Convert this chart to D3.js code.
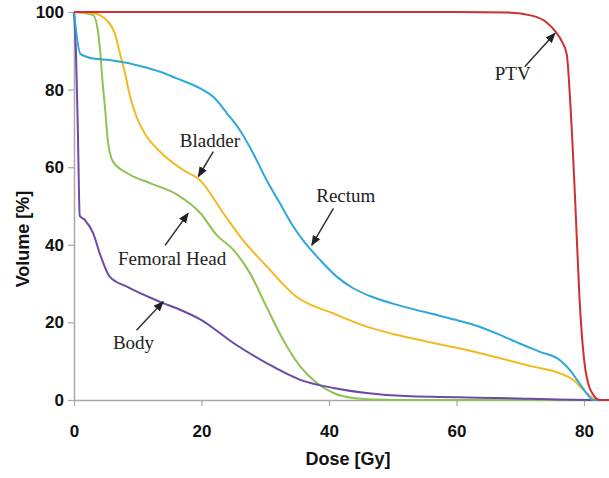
<!DOCTYPE html>
<html>
<head>
<meta charset="utf-8">
<script src="https://cdn.jsdelivr.net/npm/d3@7"></script>
<style>
  body { margin: 0; background: #fff; }
  svg { display: block; }
</style>
</head>
<body>
<div class="graph"></div>
<script>
// dose-volume histogram curves, [dose Gy, volume %]
const ptv = [[0,100],[60,100],[68,99.9],[72,99],[74,97.5],[75.5,95],[76.5,92.5],[77.3,89],[77.8,78],
  [78.6,52],[79.3,26],[79.8,14],[80.2,8],[80.7,4],[81.4,1.5],[82.5,0],[84,0]];
const rectum = [[0,100],[1,89.2],[3,88],[5.6,87.6],[10.8,85.9],[13.5,84.6],[16.1,82.9],[19.8,80.3],
  [21.8,78.2],[24,73.9],[26,69.6],[28.1,63.6],[30.2,56.7],[32.3,50.7],[34.4,44.7],[36,41],
  [38.6,36.1],[41.2,31.8],[43.8,28.8],[46.4,26.8],[51.4,24.2],[56.9,21.9],[60,20.6],[63,19.2],
  [66.8,16.8],[70,14.5],[73.1,12.4],[76.2,10.3],[77.8,7.7],[78.9,5.2],[80.4,1.8],[81.4,0],[84,0]];
const bladder = [[0,100],[3,99.7],[5.1,97.9],[6.4,94.5],[7.2,89.4],[8,84.2],[8.8,78.2],[9.8,73],
  [11.1,68.7],[13.5,64],[17.1,59.3],[19.8,56.6],[23.4,48.2],[26.5,41.2],[30.2,34.5],[34.9,26.6],
  [40.7,22.3],[45.9,18.9],[51.1,16.6],[61.6,12.9],[72,8.6],[76.2,6.9],[78.3,5.2],[79.9,2.6],
  [81.4,0.5],[82.5,0],[84,0]];
const femoral = [[0,100],[3,99.2],[3.8,94.5],[4.1,90],[4.5,81.6],[4.9,74.7],[5.3,67],[6.1,61.5],
  [8.3,58.5],[11.9,55.9],[16.1,53],[19.8,48.2],[22.4,42.5],[25,38.7],[27.6,32.7],[30.2,24],
  [32.8,15.5],[35.5,8.6],[38.1,4.4],[40.7,1.8],[43.8,0.5],[47.5,0.1],[50,0],[84,0]];
const body = [[0,100],[0.3,90],[0.6,70],[0.9,47.5],[1.7,46.4],[3,43],[4.1,37.5],[5.6,31.8],
  [8.3,29.2],[13.5,25.3],[17,23],[19.8,20.8],[25,14.7],[30.2,9.5],[35.5,5.2],[40.7,3.1],
  [45.9,1.8],[52,1],[66.8,0.5],[81,0],[84,0]];

const seriesNames = ["Femoral Head","Body","Bladder","Rectum","PTV"];
const seriesData = [femoral, body, bladder, rectum, ptv];
const seriesColors = ["#8fc255","#6a4ca6","#f2b921","#2ea8d8","#cf2f2f"];

const xTicks = [0,20,40,60,80];
const yTicks = [0,20,40,60,80,100];

// annotation label anchor, arrow tail, arrow tip in data units
const labels = ["Bladder","Rectum","Femoral Head","Body","PTV"];
const labelPos = [[16.6,65.2],[38.0,51.0],[6.9,34.8],[6.1,13.1],[66.0,82.5]];
const arrowTail = [[21.85,64.0],[40.7,49.4],[14.3,39.9],[9.8,18.0],[70.7,85.9]];
const arrowTip = [[19.5,57.6],[37.3,39.9],[17.9,48.1],[14.0,25.3],[75.45,94.5]];

const width = 609, height = 478;

let svg = d3.select(".graph").append("svg")
  .attr("width", width)
  .attr("height", height);

var x = d3.scaleLinear().domain([0,84]).range([74,609.5]);
var y = d3.scaleLinear().domain([0,100]).range([400,12]);

svg.append("defs").append("marker")
  .attr("id","arrow")
  .attr("viewBox","0 0 10 10")
  .attr("refX",9).attr("refY",5)
  .attr("markerWidth",7).attr("markerHeight",7)
  .attr("orient","auto")
  .append("path")
  .attr("d","M0,1 L10,5 L0,9 z")
  .attr("fill","#222");

//axes
var xAxis = svg.append("g")
  .attr("transform","translate(0,400)")
  .call(d3.axisBottom(x).tickValues(xTicks).tickSize(6).tickPadding(19).tickSizeOuter(0));
var yAxis = svg.append("g")
  .attr("transform","translate(74,0)")
  .call(d3.axisLeft(y).tickValues(yTicks).tickSize(6).tickPadding(4).tickSizeOuter(0));

[xAxis, yAxis].forEach(a => {
  a.select(".domain").attr("stroke","#a8a8a8").attr("stroke-width",1.5);
  a.selectAll(".tick line").attr("stroke","#a8a8a8").attr("stroke-width",1.2);
  a.selectAll(".tick text")
    .attr("font-family","Liberation Sans, Arial, sans-serif")
    .attr("font-weight","bold")
    .attr("font-size",17)
    .attr("fill","#111");
});

svg.append("text")
  .attr("x", 348).attr("y", 465)
  .attr("text-anchor","middle")
  .attr("font-family","Liberation Sans, Arial, sans-serif")
  .attr("font-weight","bold").attr("font-size",18)
  .attr("fill","#111")
  .text("Dose [Gy]");

svg.append("text")
  .attr("transform","translate(29,239) rotate(-90)")
  .attr("text-anchor","middle")
  .attr("font-family","Liberation Sans, Arial, sans-serif")
  .attr("font-weight","bold").attr("font-size",18)
  .attr("fill","#111")
  .text("Volume [%]");

//curves
var line = d3.line()
  .x(d => x(d[0]))
  .y(d => y(d[1]))
  .curve(d3.curveMonotoneX);

svg.append("g").selectAll("path")
  .data(seriesData)
  .enter()
  .append("path")
  .attr("d", line)
  .attr("fill","none")
  .attr("stroke",(d,i) => seriesColors[i])
  .attr("stroke-width",2)
  .attr("stroke-linejoin","round");

//annotations
var notes = svg.append("g");
notes.selectAll("line")
  .data(labels)
  .enter()
  .append("line")
  .attr("x1",(d,i) => x(arrowTail[i][0]))
  .attr("y1",(d,i) => y(arrowTail[i][1]))
  .attr("x2",(d,i) => x(arrowTip[i][0]))
  .attr("y2",(d,i) => y(arrowTip[i][1]))
  .attr("stroke","#333")
  .attr("stroke-width",1.5)
  .attr("marker-end","url(#arrow)");

notes.selectAll("text")
  .data(labels)
  .enter()
  .append("text")
  .attr("x",(d,i) => x(labelPos[i][0]))
  .attr("y",(d,i) => y(labelPos[i][1]))
  .attr("font-family","Liberation Serif, Times New Roman, serif")
  .attr("font-size",19)
  .attr("fill","#222")
  .text(d => d);
</script>
</body>
</html>
